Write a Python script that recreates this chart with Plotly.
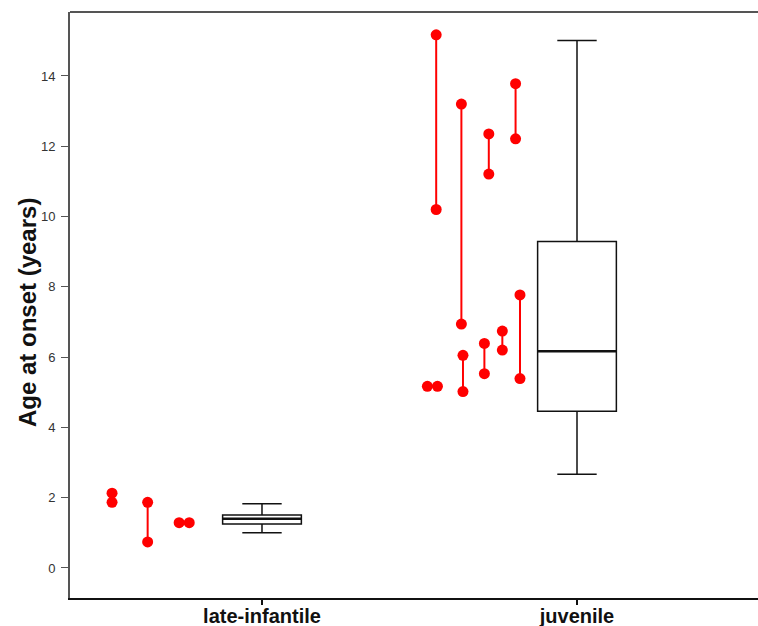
import plotly.graph_objects as go

# ---- data ----
categories = ["late-infantile", "juvenile"]
cat_pos = [0, 1]

# box statistics per category
box_lowerfence = [1.00, 2.67]
box_q1 = [1.25, 4.46]
box_median = [1.40, 6.17]
box_q3 = [1.51, 9.29]
box_upperfence = [1.83, 15.01]

# paired observations (x offset relative to category, value 1, value 2)
li_x1 = [-0.476, -0.363, -0.263]
li_x2 = [-0.476, -0.363, -0.231]
li_y1 = [2.13, 1.87, 1.29]
li_y2 = [1.87, 0.74, 1.29]

ju_x1 = [-0.475, -0.447, -0.367, -0.362, -0.294, -0.280, -0.237, -0.195, -0.181]
ju_x2 = [-0.443, -0.447, -0.367, -0.362, -0.294, -0.280, -0.237, -0.195, -0.181]
ju_y1 = [5.17, 15.17, 13.20, 6.05, 6.39, 12.35, 6.74, 13.78, 7.77]
ju_y2 = [5.17, 10.20, 6.94, 5.02, 5.53, 11.21, 6.20, 12.21, 5.39]

y_ticks = [0, 2, 4, 6, 8, 10, 12, 14]
y_title = "Age at onset (years)"

FONT = "Arial, Liberation Sans, sans-serif"
RED = "#ff0000"
BOX_W = 0.25

fig = go.Figure()

# paired points
for base, xs1, xs2, ys1, ys2 in [(cat_pos[0], li_x1, li_x2, li_y1, li_y2),
                                 (cat_pos[1], ju_x1, ju_x2, ju_y1, ju_y2)]:
    px, py = [], []
    for a, b, c, d in zip(xs1, xs2, ys1, ys2):
        px += [base + a, base + b, None]
        py += [c, d, None]
    fig.add_trace(go.Scatter(x=px, y=py, mode="lines+markers",
                             line=dict(color=RED, width=2),
                             marker=dict(color=RED, size=11),
                             showlegend=False, hoverinfo="skip"))

# boxes
for i in range(len(categories)):
    fig.add_trace(go.Box(x=[cat_pos[i]], q1=[box_q1[i]], median=[box_median[i]],
                         q3=[box_q3[i]], lowerfence=[box_lowerfence[i]],
                         upperfence=[box_upperfence[i]],
                         width=BOX_W, whiskerwidth=0.5,
                         line=dict(color="#111111", width=1.5),
                         fillcolor="rgba(255,255,255,0)",
                         boxpoints=False, showlegend=False, hoverinfo="skip"))
    # thicker median
    fig.add_trace(go.Scatter(x=[cat_pos[i] - BOX_W / 2, cat_pos[i] + BOX_W / 2],
                             y=[box_median[i], box_median[i]], mode="lines",
                             line=dict(color="#111111", width=2.5),
                             showlegend=False, hoverinfo="skip"))

fig.add_shape(type="line", xref="paper", yref="paper", x0=0, x1=1, y0=1, y1=1,
              line=dict(color="#555555", width=2))

# y-axis title, centred on the full figure height
fig.add_annotation(text=y_title, textangle=-90, showarrow=False,
                   xref="paper", yref="paper", x=-0.0625, y=0.4863,
                   xanchor="center", yanchor="middle",
                   font=dict(size=24, family=FONT, color="#111111", weight="bold"))

fig.update_layout(
    width=758, height=626,
    margin=dict(l=70, r=0, t=12, b=28, autoexpand=False),
    paper_bgcolor="white", plot_bgcolor="white",
    font=dict(family=FONT, color="#222222"),
    xaxis=dict(range=[-0.6095, 1.5746], tickvals=cat_pos, ticktext=categories,
               automargin=False,
               showgrid=False, zeroline=False, showline=True,
               linecolor="#111111", linewidth=1.5,
               ticks="outside", ticklen=5, tickcolor="#111111", tickwidth=1.5,
               ticklabelstandoff=-6,
               tickfont=dict(size=20, family=FONT, color="#111111", weight="bold")),
    yaxis=dict(range=[-0.854, 15.82], tickvals=y_ticks,
               automargin=False,
               showgrid=False, zeroline=False, showline=True,
               linecolor="#555555", linewidth=2,
               ticks="outside", ticklen=7, tickcolor="#555555", tickwidth=1,
               ticklabelstandoff=3,
               tickfont=dict(size=13, family=FONT, color="#333333")),
)

fig.write_html(
    "out.html",
    config={"displayModeBar": False, "staticPlot": True},
    post_script="document.body.style.margin='0';document.body.style.overflow='hidden';"
                "document.documentElement.style.overflow='hidden';",
)
